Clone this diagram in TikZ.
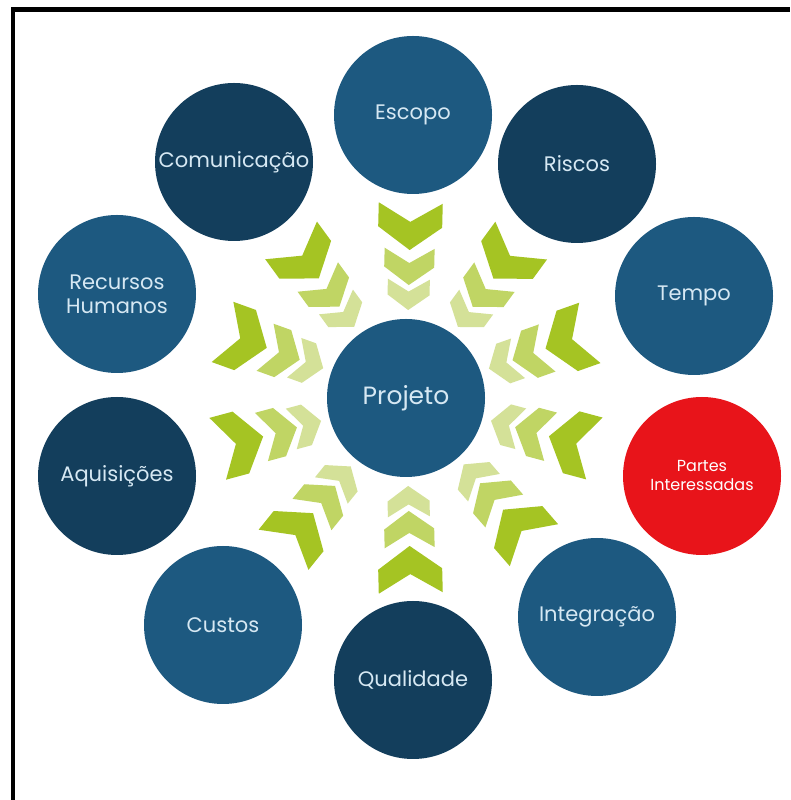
\documentclass[tikz,border=0pt]{standalone}
\usepackage{fontspec}
\setmainfont{Poppins}
\usepackage{tikz}
\usetikzlibrary{positioning}
\definecolor{midblue}{RGB}{29,89,128}
\definecolor{deepblue}{RGB}{19,62,92}
\definecolor{alertred}{RGB}{232,20,26}
\definecolor{labelblue}{RGB}{214,232,243}
\definecolor{chevA}{RGB}{165,196,35}
\definecolor{chevB}{RGB}{192,213,100}
\definecolor{chevC}{RGB}{212,225,152}
\tikzset{
  area/.style={circle, minimum size=158pt, inner sep=0pt, text=labelblue,
    align=center, font=\fontsize{21}{24}\selectfont},
  lightarea/.style={area, fill=midblue},
  deeparea/.style={area, fill=deepblue},
  redarea/.style={area, fill=alertred, text=white, font=\fontsize{16}{19}\selectfont}
}
\newcommand{\chevronat}[3]{% colour, distance, size
  \begin{scope}[shift={(0,#2)}, scale=#3]
    \fill[#1] (0,0) -- (1,0.72) -- (1,1.47) -- (0,0.88) -- (-1,1.47) -- (-1,0.72) -- cycle;
  \end{scope}}

\begin{document}
\begin{tikzpicture}[x=1pt,y=1pt]
  \useasboundingbox (0,0) rectangle (790,800);
  \fill[white] (0,0) rectangle (790,800);
  \draw[line width=4.5pt] (13,0) -- (13,790.5) -- (790,790.5);

  \node[lightarea, font=\fontsize{25}{28}\selectfont] (prj) at (406,402) {Projeto};

  \node[lightarea] (esc) at (413,685) {Escopo};
  \node[deeparea] (ris) at (577,636) {Riscos};
  \node[lightarea] (tmp) at (694,504) {Tempo};
  \node[redarea] (par) at (702,324) {Partes\\Interessadas};
  \node[lightarea] (itg) at (597,183) {Integração};
  \node[deeparea] (qua) at (413,120) {Qualidade};
  \node[lightarea] (cus) at (223,175) {Custos};
  \node[deeparea] (aqu) at (117,324) {Aquisições};
  \node[lightarea] (rhu) at (117,506) {Recursos\\Humanos};
  \node[deeparea] (com) at (234,638) {Comunicação};

  % three chevrons from each area towards the project
  \foreach \ang in {88.6,53.8,19.5,-15,-49,-88.6,-128.9,-164.9,160.2,126.1}{
    \begin{scope}[shift={(prj.center)}, rotate=\ang-90]
      \chevronat{chevC}{88}{21}
      \chevronat{chevB}{113}{25}
      \chevronat{chevA}{148}{32}
    \end{scope}
  }
\end{tikzpicture}
\end{document}
